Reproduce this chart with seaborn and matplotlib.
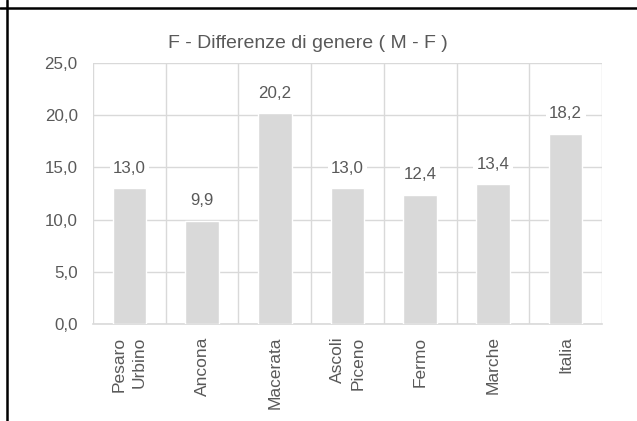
import matplotlib
import matplotlib.pyplot as plt
import numpy as np
import pandas as pd
import seaborn as sns
from matplotlib.lines import Line2D
from matplotlib.ticker import FixedLocator, FuncFormatter


matplotlib.use("Agg")

# chart data
province = ["Pesaro\nUrbino", "Ancona", "Macerata", "Ascoli\nPiceno", "Fermo", "Marche", "Italia"]
differenza = [13.0, 9.9, 20.2, 13.0, 12.4, 13.4, 18.2]
y_ticks = [0, 5, 10, 15, 20, 25]
title = "F - Differenze di genere ( M - F )"

TEXT = "#595959"
GRID = "#d9d9d9"
BAR = "#d9d9d9"


def comma(v: float) -> str:
    return f"{v:.1f}".replace(".", ",")


def main() -> None:
    sns.set_theme(style="white")
    plt.rcParams["font.family"] = ["Liberation Sans", "DejaVu Sans"]

    df = pd.DataFrame({"provincia": province, "valore": differenza})

    fig = plt.figure(figsize=(6.37, 4.21), dpi=100)
    ax = fig.add_axes([93 / 637, 1 - 324 / 421, (602 - 93) / 637, (324 - 63) / 421])

    sns.barplot(data=df, x="provincia", y="valore", color=BAR, width=0.46,
                saturation=1, ax=ax, zorder=3)

    ax.set_xlim(-0.5, len(province) - 0.5)
    ax.set_ylim(0, 25)
    ax.yaxis.set_major_locator(FixedLocator(y_ticks))
    ax.yaxis.set_major_formatter(FuncFormatter(lambda v, _: comma(v)))
    ax.xaxis.set_minor_locator(FixedLocator(np.arange(-0.5, len(province), 1.0)))

    ax.grid(True, axis="y", which="major", color=GRID, linewidth=1.0, zorder=0)
    ax.grid(True, axis="x", which="minor", color=GRID, linewidth=1.0, zorder=0)
    ax.grid(False, axis="x", which="major")
    ax.set_axisbelow(True)
    for side in ["top", "left", "right"]:
        ax.spines[side].set_visible(False)
    ax.spines["bottom"].set_color(GRID)
    ax.spines["bottom"].set_linewidth(1.2)

    ax.tick_params(axis="both", which="both", length=0, colors=TEXT)
    ax.tick_params(axis="y", pad=11, labelsize=12.2)
    ax.tick_params(axis="x", pad=9, labelsize=12.5)
    ax.set_xticks(range(len(province)))
    ax.set_xticklabels(province, rotation=90, va="top", ha="center",
                       multialignment="right", linespacing=1.45, color=TEXT)
    ax.set_xlabel("")
    ax.set_ylabel("")

    ax.bar_label(ax.containers[0], labels=[comma(v) for v in differenza], padding=9,
                 fontsize=12.2, color=TEXT,
                 bbox=dict(facecolor="white", edgecolor="none", pad=2.5), zorder=4)

    fig.text(308 / 637, 1 - 43 / 421, title, ha="center", va="center",
             fontsize=14, color=TEXT)

    # black frame lines at top and left edge
    fig.add_artist(Line2D([0, 637], [421 - 8, 421 - 8], transform=None,
                          color="black", linewidth=1.8))
    fig.add_artist(Line2D([7, 7], [0, 421], transform=None,
                          color="black", linewidth=1.8))

    fig.savefig("out.png", dpi=100)
    plt.close(fig)


if __name__ == "__main__":
    main()
